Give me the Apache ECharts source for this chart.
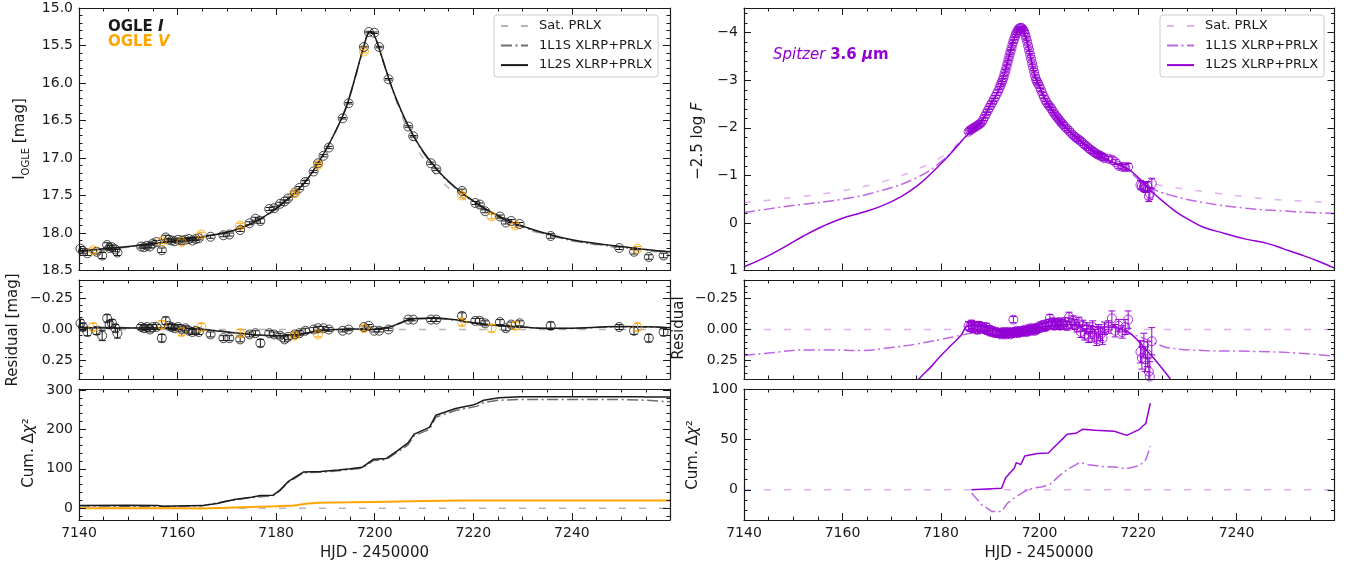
<!DOCTYPE html>
<html><head><meta charset="utf-8">
<script src="https://cdn.jsdelivr.net/npm/echarts@6/dist/echarts.min.js"></script>
<style>html,body{margin:0;padding:0;background:#fff}#c{width:1347px;height:566px}</style>
</head><body><div id="c"></div>
<script>
// ---------------- tick labels ----------------
const xMajorTicks = [7140, 7160, 7180, 7200, 7220, 7240];
const magTicks = [15.0, 15.5, 16.0, 16.5, 17.0, 17.5, 18.0, 18.5];
const resTicks = [-0.25, 0, 0.25];
const cumTicksL = [0, 100, 200, 300];
const fluxTicks = [-4, -3, -2, -1, 0, 1];
const cumTicksR = [0, 50, 100];

// ---------------- OGLE I data ----------------
const oglI_t = [7140.3,7140.8,7141.7,7143.6,7144.7,7145.7,7146.2,7146.7,7147.4,7147.8,
 7152.6,7153.2,7153.8,7154.4,7155.0,7155.7,
 7156.8,7157.6,7158.2,7158.8,7159.4,7160.1,7160.9,7161.6,7162.3,7163.0,7163.7,7164.3,
 7166.7,7169.3,7170.5,7172.7,
 7174.6,7175.8,7176.8,
 7178.6,7179.6,7180.8,7181.7,7182.4,
 7183.8,7184.7,7185.9,
 7187.6,7188.5,7189.6,7190.7,
 7193.5,7194.7,
 7197.8,7198.8,7199.9,7200.9,
 7202.8,
 7206.8,7207.8,
 7211.4,7212.5,
 7217.7,
 7220.4,7221.3,7222.4,
 7225.4,7226.6,7227.7,7229.4,
 7235.7,
 7249.6,7252.6,7255.6,7258.6];
const oglI_mag = [18.21,18.24,18.27,18.25,18.30,18.16,18.20,18.19,18.22,18.26,
 18.18,18.19,18.17,18.18,18.14,18.12,
 18.23,18.06,18.09,18.10,18.11,18.09,18.10,18.09,18.08,18.10,18.08,18.07,
 18.05,18.03,18.02,17.96,
 17.87,17.81,17.84,
 17.68,17.67,17.61,17.58,17.54,
 17.46,17.40,17.32,
 17.18,17.07,16.97,16.86,
 16.47,16.27,
 15.52,15.32,15.33,15.52,
 15.95,
 16.58,16.71,
 17.07,17.15,
 17.44,
 17.60,17.62,17.71,
 17.78,17.86,17.84,17.88,
 18.04,
 18.20,18.25,18.32,18.30];
const oglI_err = [.03,.03,.03,.03,.04,.03,.03,.03,.03,.04,
 .02,.02,.02,.02,.02,.02,
 .03,.03,.02,.02,.02,.02,.02,.02,.02,.02,.02,.02,
 .02,.02,.02,.02,
 .02,.02,.03,
 .02,.02,.02,.02,.02,
 .02,.02,.02,
 .015,.015,.015,.015,
 .01,.01,
 .01,.01,.01,.01,
 .01,
 .01,.01,
 .015,.015,
 .025,
 .02,.02,.02,
 .02,.02,.02,.02,
 .03,
 .02,.03,.03,.03];
const oglI_res = [-0.05,-0.02,0.02,0.01,0.05,-0.09,-0.04,-0.05,-0.01,0.03,
 -0.02,-0.01,-0.02,0.00,-0.02,-0.02,
 0.07,-0.07,-0.03,-0.02,-0.01,-0.02,0.00,-0.01,0.01,0.02,0.01,0.02,
 0.04,0.07,0.07,0.08,
 0.04,0.03,0.11,
 0.03,0.04,0.05,0.08,0.06,
 0.04,0.03,0.01,
 0.00,-0.01,-0.01,0.00,
 0.01,0.00,
 -0.02,-0.03,0.01,0.01,
 0.00,
 -0.08,-0.08,
 -0.08,-0.08,
 -0.11,
 -0.07,-0.07,-0.05,
 -0.06,-0.01,-0.04,-0.05,
 -0.03,
 -0.02,0.01,0.07,0.02];

// ---------------- OGLE V data ----------------
const oglV_t = [7142.9,7156.8,7160.8,7164.8,7172.7,7183.7,7188.5,7197.8,7217.7,7223.7,7228.5,7253.3];
const oglV_mag = [18.23,18.11,18.12,18.02,17.90,17.47,17.09,15.58,17.50,17.78,17.90,18.21];
const oglV_err = [.03,.03,.03,.03,.03,.02,.02,.02,.03,.03,.03,.03];
const oglV_res = [-0.02,-0.04,0.02,-0.02,0.03,0.05,0.04,-0.01,-0.06,-0.01,-0.03,-0.02];

// ---------------- OGLE models ----------------
const modL_t = [7140,7145,7150,7155,7160,7165,7170,7173,7176,7179,7182,7184,7186,7188,7190,7192,7194,7195,7196,7197,7198,7198.5,7199,7199.5,7200,7200.5,7201,7202,7203,7204,7206,7208,7210,7212,7214,7216,7218,7220,7222,7225,7228,7231,7235,7240,7245,7250,7255,7259.9];
const m1l2s_L = [18.24,18.21,18.18,18.14,18.10,18.05,17.99,17.93,17.84,17.72,17.57,17.45,17.31,17.12,16.90,16.65,16.36,16.16,15.93,15.69,15.46,15.36,15.32,15.32,15.38,15.46,15.56,15.77,15.97,16.15,16.46,16.72,16.93,17.10,17.25,17.37,17.48,17.57,17.66,17.77,17.86,17.93,18.01,18.09,18.14,18.18,18.22,18.25];
const m1l1s_L = [18.245,18.215,18.185,18.145,18.105,18.055,17.99,17.93,17.845,17.725,17.575,17.455,17.31,17.12,16.90,16.65,16.36,16.16,15.93,15.69,15.46,15.36,15.32,15.32,15.38,15.46,15.56,15.77,15.975,16.16,16.47,16.73,16.94,17.11,17.26,17.38,17.49,17.58,17.67,17.78,17.87,17.94,18.02,18.10,18.15,18.19,18.225,18.255];
const satL_t = [7140,7150,7160,7165,7170,7175,7180,7185,7190,7195,7198,7199.2,7200,7202,7204,7206,7208,7210,7212,7214,7216,7220,7225,7230,7235,7245,7259.9];
const sat_L = [18.26,18.19,18.11,18.06,17.97,17.84,17.61,17.34,16.90,16.16,15.45,15.31,15.38,15.77,16.17,16.52,16.81,17.02,17.19,17.34,17.45,17.62,17.80,17.93,18.03,18.16,18.27];

const resL_t = [7140,7150,7160,7165,7170,7175,7180,7183,7186,7189,7192,7196,7199,7201,7203,7205,7207,7210,7213,7216,7219,7222,7226,7230,7235,7240,7245,7250,7255,7259.9];
const res1l2s_L = [-0.015,-0.012,-0.01,0.0,0.02,0.04,0.05,0.045,0.03,0.01,0.0,-0.005,0.0,-0.01,-0.02,-0.05,-0.08,-0.09,-0.09,-0.08,-0.06,-0.045,-0.03,-0.02,-0.01,-0.01,-0.018,-0.025,-0.022,-0.015];
const res1l1s_L = [-0.02,-0.015,-0.012,-0.003,0.018,0.04,0.052,0.048,0.033,0.012,0.002,-0.003,0.002,-0.008,-0.018,-0.048,-0.077,-0.087,-0.087,-0.077,-0.058,-0.043,-0.028,-0.018,-0.009,-0.008,-0.016,-0.022,-0.02,-0.012];

const cumL_t = [7140,7150,7156,7157,7165,7168,7171.5,7173.3,7175,7176.8,7179.4,7180.7,7182.5,7184,7185.6,7189,7192.6,7195,7197.5,7199.7,7202.3,7204.5,7206.7,7208,7211.1,7212.4,7216.4,7219.9,7220.8,7222.1,7225.2,7229.6,7254,7255,7259.9];
const cum1l2s_L = [7,7.5,7,5,6.5,12,22,25,28,32,33,45,68,80,92,93,97,100,104,124,126,145,165,188,205,236,253,262,266,274,280,283,283,282,282];
const cum1l1sL_t = [7140,7157,7165,7170,7175,7179.4,7180.7,7182.5,7185.6,7189,7195,7197.5,7199.7,7202.3,7206.7,7208,7211.1,7212.4,7216.4,7220.8,7222.1,7225.2,7230,7250,7255,7259.9];
const cum1l1s_L = [6,4,6,18,27,32,44,66,90,91,98,102,121,123,160,184,200,231,248,259,268,274,276,276,274,270];
const cumV_t = [7140,7160,7165,7170,7175,7180,7183.7,7186,7188.5,7195,7200,7210,7217.7,7259.9];
const cumV_L = [0,0,-0.5,1,3,5,7,11,14,15,16,18,19.5,19.5];
const zero_t = [7140, 7259.9];
const zero_v = [0, 0];

// ---------------- Spitzer data ----------------
const spz_t = [7185.6,7185.9,7186.2,7186.5,7186.8,7187.1,7187.4,7187.7,7188.0,7188.3,
 7188.6,7188.9,7189.2,7189.5,7189.8,7190.1,7190.4,7190.7,7191.0,7191.3,7191.6,
 7191.9,7192.1,7192.3,7192.5,7192.7,7192.9,7193.1,7193.3,7193.5,7193.7,7193.9,7194.1,7194.3,7194.5,7194.7,7194.9,7195.1,7195.3,7195.5,7195.7,7195.9,7196.1,7196.3,7196.5,
 7196.7,7196.9,7197.1,7197.3,7197.5,7197.7,7197.9,7198.1,7198.3,7198.5,7198.7,7198.9,7199.1,7199.3,7199.5,7199.7,
 7200.0,7200.3,7200.6,7200.9,7201.2,7201.5,7201.8,7202.1,7202.4,7202.7,7203.0,7203.3,7203.6,7203.9,7204.2,7204.5,
 7204.8,7205.2,7205.6,7206.0,7206.4,7206.8,7207.2,7207.6,7208.0,7208.4,7208.8,7209.2,7209.6,7210.0,7210.4,7210.8,7211.2,7211.6,7212.0,7212.4,7212.8,7213.2,
 7214.0,7214.7,7215.4,7216.1,7216.8,7217.4,7218.0,
 7220.5,7220.8,7221.2,7221.5,7221.9,7222.2,7222.4,7222.8];
const spz_mag = [-1.92,-1.95,-1.97,-1.99,-2.01,-2.03,-2.05,-2.07,-2.09,-2.12,
 -2.18,-2.24,-2.30,-2.36,-2.42,-2.48,-2.53,-2.59,-2.65,-2.71,-2.77,
 -2.84,-2.90,-2.95,-3.00,-3.06,-3.13,-3.20,-3.28,-3.36,-3.44,-3.52,-3.60,-3.67,-3.75,-3.82,-3.88,-3.94,-3.99,-4.03,-4.07,-4.09,-4.10,-4.10,-4.09,
 -4.06,-4.02,-3.96,-3.89,-3.81,-3.72,-3.63,-3.54,-3.45,-3.36,-3.27,-3.18,-3.09,-3.02,-2.97,-2.93,
 -2.87,-2.80,-2.72,-2.65,-2.58,-2.53,-2.48,-2.45,-2.40,-2.35,-2.30,-2.26,-2.22,-2.18,-2.14,-2.10,
 -2.07,-2.02,-1.98,-1.94,-1.89,-1.85,-1.81,-1.78,-1.75,-1.72,-1.68,-1.64,-1.61,-1.57,-1.54,-1.51,-1.48,-1.45,-1.43,-1.41,-1.39,-1.36,
 -1.35,-1.33,-1.28,-1.20,-1.18,-1.17,-1.18,
 -0.80,-0.78,-0.76,-0.74,-0.77,-0.56,-0.62,-0.83];
const spz_err = [.035,.035,.035,.035,.035,.035,.035,.035,.035,.035,
 .03,.03,.03,.03,.03,.03,.03,.03,.03,.03,.03,
 .025,.025,.025,.025,.025,.025,.025,.025,.025,.025,.025,.025,.025,.025,.025,.025,.025,.025,.025,.025,.025,.025,.025,.025,
 .025,.025,.025,.025,.025,.025,.025,.025,.025,.025,.025,.025,.025,.025,.025,.025,
 .03,.03,.03,.03,.03,.03,.03,.03,.03,.03,.03,.03,.03,.03,.03,.03,
 .035,.035,.035,.04,.04,.04,.04,.04,.04,.045,.045,.045,.045,.045,.05,.05,.05,.05,.05,.05,.05,.05,
 .05,.06,.05,.05,.05,.06,.07,
 .09,.09,.10,.10,.10,.11,.12,.11];
const spz_res = [-0.03,-0.02,-0.04,-0.01,-0.03,-0.02,0.00,-0.03,-0.01,-0.02,
 -0.01,0.00,-0.02,0.01,0.00,0.02,0.01,0.02,0.03,0.02,0.03,
 0.03,0.04,0.03,0.02,0.04,0.03,0.02,0.04,0.03,0.02,0.03,0.04,0.02,0.03,-0.08,0.02,0.03,0.01,0.02,0.03,0.02,0.01,0.02,0.01,
 0.01,0.02,0.00,0.01,0.02,0.00,0.01,-0.01,0.00,0.01,-0.01,0.00,0.01,-0.01,0.00,-0.02,
 -0.01,-0.03,-0.02,-0.04,-0.02,-0.03,-0.05,-0.09,-0.04,-0.06,-0.03,-0.05,-0.04,-0.06,-0.03,-0.05,
 -0.04,-0.06,-0.03,-0.10,-0.05,-0.07,-0.04,-0.02,-0.06,0.02,-0.03,0.04,-0.01,0.06,0.02,-0.02,0.05,0.08,0.01,0.04,0.07,-0.01,
 -0.02,-0.09,0.01,-0.03,0.02,-0.02,-0.08,
 0.18,0.23,0.13,0.24,0.20,0.34,0.38,0.095];

// ---------------- Spitzer models ----------------
const modR_t = [7140,7144,7148,7152,7156,7160,7164,7168,7172,7175.4,7178,7180.6,7183,7185.6,7188,7190,7192,7194,7195,7196,7196.5,7197,7198,7199,7200,7201,7202,7204,7206,7208,7210,7212,7214,7216,7218,7220,7222,7224,7226.4,7228.5,7230.7,7233.3,7237.6,7241.9,7246.2,7249.7,7253.1,7256.5,7259.9];
const m1l2s_R = [0.92,0.74,0.52,0.28,0.07,-0.10,-0.22,-0.36,-0.56,-0.80,-1.04,-1.31,-1.58,-1.88,-2.10,-2.48,-2.86,-3.58,-3.92,-4.09,-4.10,-3.98,-3.58,-3.12,-2.87,-2.63,-2.46,-2.15,-1.94,-1.76,-1.59,-1.43,-1.32,-1.22,-1.13,-0.96,-0.74,-0.55,-0.34,-0.18,-0.05,0.09,0.22,0.34,0.43,0.55,0.67,0.80,0.95];
const modR2_t = [7140,7149.5,7160,7168.5,7175.4,7180.6,7184.5,7188,7190,7192,7194,7195,7196,7196.5,7197,7198,7199,7200,7201,7202,7204,7206,7208,7210,7212,7214,7216,7218,7220,7222.1,7226.4,7233.3,7241.9,7249.7,7259.9];
const m1l1s_R = [-0.22,-0.36,-0.50,-0.70,-0.97,-1.34,-1.76,-2.11,-2.48,-2.86,-3.58,-3.92,-4.09,-4.10,-3.98,-3.58,-3.12,-2.87,-2.63,-2.46,-2.15,-1.94,-1.76,-1.59,-1.43,-1.33,-1.24,-1.12,-0.92,-0.76,-0.59,-0.43,-0.31,-0.25,-0.20];
const sat_R = [-0.43,-0.53,-0.68,-0.88,-1.14,-1.42,-1.78,-2.12,-2.48,-2.86,-3.58,-3.92,-4.09,-4.10,-3.98,-3.58,-3.12,-2.87,-2.63,-2.46,-2.15,-1.94,-1.76,-1.59,-1.44,-1.34,-1.25,-1.10,-0.95,-0.85,-0.76,-0.66,-0.55,-0.48,-0.43];

const resR2s_t = [7174,7176,7178,7180,7182,7184,7185.6,7187,7190,7194,7198,7202,7206,7210,7212,7214,7216,7218,7220,7222,7224,7226,7227.5];
const res1l2s_R = [0.47,0.38,0.30,0.21,0.13,0.05,-0.03,-0.03,-0.01,0.02,0.0,-0.03,-0.04,-0.03,-0.02,-0.02,-0.01,0.02,0.09,0.18,0.27,0.37,0.46];
const resR1s_t = [7140,7145,7152.5,7158,7163.6,7170,7174.6,7180,7183.2,7186,7190,7195,7200,7205,7210,7214,7216,7218,7220,7222.1,7224,7226.4,7233.3,7243.6,7252.2,7259.9];
const res1l1s_R = [0.21,0.19,0.165,0.165,0.17,0.145,0.12,0.08,0.054,0.03,0.01,0.0,-0.005,-0.01,-0.005,0.0,0.01,0.03,0.055,0.087,0.12,0.15,0.17,0.177,0.19,0.215];

const cumR2s_t = [7186.2,7192.3,7193.1,7194.9,7195.3,7196.2,7197,7199.6,7201.8,7203.1,7204.8,7205.6,7207.4,7208.7,7211.3,7215.2,7217.7,7220.3,7221.6,7222.5];
const cum1l2s_R = [0,1.6,11.6,21.5,27,25,33.5,36,36.5,43,51,55,56,60,59,58,54,60,66,86];
const cumR1s_t = [7186.2,7188.3,7190.4,7192.3,7193.5,7195.3,7197,7198.7,7200.4,7202.2,7203.9,7205.6,7207.4,7208.2,7210,7212.5,7215.2,7217.7,7220.3,7221.6,7222.5];
const cum1l1s_R = [-3.3,-15,-21.6,-21.6,-13.2,-6.6,-1.6,1.7,2.7,5.6,13.3,19.9,24.9,27.2,24.9,23.2,22.6,20.9,23.9,29.9,43.2];

// ---------------- styling ----------------
const FONT = 'DejaVu Sans';
const INK = '#1a1a1a';
const VIOLET = '#9400D3';
const VIOLET_LT = 'rgba(148,0,211,0.3)';
const VIOLET_MD = 'rgba(148,0,211,0.6)';
const ORANGE = '#FFA500';
const GRAY_LT = '#b5b5b5';
const GRAY_MD = '#6e6e6e';
const DASH = [7, 13];
const DASHDOT = [11, 3.5, 2, 3.5];
const T_MIN = 7140, T_MAX = 7259.9;

function seq(a, b, step) {
  const n = Math.round((b - a) / step);
  return Array.from({length: n + 1}, (_, i) => +(a + i * step).toFixed(5));
}
const MINUS = s => s.replace('-', '\u2212');
const fmtMag = v => v.toFixed(1);
const fmtRes = v => Math.abs(v) < 1e-9 ? '0.00' : MINUS(v.toFixed(2));
const fmtInt = v => MINUS(String(Math.round(v)));

const cols = [{left: 79, width: 591}, {left: 744, width: 590.5}];
const rows = [{top: 8, height: 262.5}, {top: 280, height: 99}, {top: 389, height: 131}];

const panels = [
  {col: 0, row: 0, y: [15, 18.5], inv: true, maj: magTicks, min: seq(15, 18.5, 0.1), fmt: fmtMag},
  {col: 0, row: 1, y: [-0.4, 0.4], inv: true, maj: resTicks, min: seq(-0.4, 0.4, 0.05), fmt: fmtRes},
  {col: 0, row: 2, y: [-30, 302.5], inv: false, maj: cumTicksL, min: seq(-20, 300, 20), fmt: fmtInt},
  {col: 1, row: 0, y: [-4.52, 1], inv: true, maj: fluxTicks, min: seq(-4.4, 1, 0.2), fmt: fmtInt},
  {col: 1, row: 1, y: [-0.4, 0.4], inv: true, maj: resTicks, min: seq(-0.4, 0.4, 0.05), fmt: fmtRes},
  {col: 1, row: 2, y: [-30, 100], inv: false, maj: cumTicksR, min: seq(-30, 100, 10), fmt: fmtInt},
];
const xMinor = seq(7140, 7255, 5);

const grids = [], xAxes = [], yAxes = [];
function mk(g, pos, lo, hi, inverse, ticks, len, line, labels, fmt) {
  return {
    type: 'value', gridIndex: g, position: pos, min: lo, max: hi, inverse, offset: 0,
    axisLine: {show: line, onZero: false, lineStyle: {color: INK, width: 1.2}},
    axisTick: {show: true, inside: true, length: len, customValues: ticks, lineStyle: {color: INK, width: 1}},
    axisLabel: labels ? {show: true, customValues: labels, formatter: fmt, fontFamily: FONT, fontSize: 14, color: INK, margin: 6} : {show: false},
    splitLine: {show: false}, minorTick: {show: false}, minorSplitLine: {show: false},
    silent: true, z: 5
  };
}
panels.forEach((p, g) => {
  const c = cols[p.col], r = rows[p.row];
  grids.push({left: c.left, top: r.top, width: c.width, height: r.height, containLabel: false, show: false});
  const showX = p.row === 2;
  xAxes.push(mk(g, 'bottom', T_MIN, T_MAX, false, xMajorTicks, 7, true, showX ? xMajorTicks : null, v => String(v)));
  xAxes.push(mk(g, 'bottom', T_MIN, T_MAX, false, xMinor, 3.5, false, null));
  xAxes.push(mk(g, 'top', T_MIN, T_MAX, false, xMajorTicks, 7, true, null));
  xAxes.push(mk(g, 'top', T_MIN, T_MAX, false, xMinor, 3.5, false, null));
  yAxes.push(mk(g, 'left', p.y[0], p.y[1], p.inv, p.maj, 7, true, p.maj, p.fmt));
  yAxes.push(mk(g, 'left', p.y[0], p.y[1], p.inv, p.min, 3.5, false, null));
  yAxes.push(mk(g, 'right', p.y[0], p.y[1], p.inv, p.maj, 7, true, null));
  yAxes.push(mk(g, 'right', p.y[0], p.y[1], p.inv, p.min, 3.5, false, null));
});

const xy = (xs, ys) => xs.map((x, i) => [x, ys[i]]);
function lineS(g, xs, ys, color, width, type, name, smooth, z) {
  return {type: 'line', name, xAxisIndex: 4 * g, yAxisIndex: 4 * g, data: xy(xs, ys),
    symbol: 'none', showSymbol: false, smooth: smooth ? 0.45 : false,
    lineStyle: {color, width, type}, itemStyle: {color}, clip: true, silent: true, animation: false, z: z || 3};
}
function errS(g, xs, ys, es, color) {
  return {type: 'custom', xAxisIndex: 4 * g, yAxisIndex: 4 * g, clip: true, silent: true, animation: false, z: 4,
    data: xs.map((x, i) => [x, ys[i], es[i]]),
    encode: {x: 0, y: 1},
    renderItem: (params, api) => {
      const x = api.value(0), y = api.value(1), e = api.value(2);
      const a = api.coord([x, y - e]), b = api.coord([x, y + e]);
      const cw = 3.5, st = {stroke: color, lineWidth: 1};
      return {type: 'group', children: [
        {type: 'line', shape: {x1: a[0], y1: a[1], x2: b[0], y2: b[1]}, style: st},
        {type: 'line', shape: {x1: a[0] - cw, y1: a[1], x2: a[0] + cw, y2: a[1]}, style: st},
        {type: 'line', shape: {x1: b[0] - cw, y1: b[1], x2: b[0] + cw, y2: b[1]}, style: st}
      ]};
    }};
}
function ptsS(g, xs, ys, color) {
  return {type: 'scatter', xAxisIndex: 4 * g, yAxisIndex: 4 * g, data: xy(xs, ys), symbol: 'circle', symbolSize: 9,
    itemStyle: {color: 'rgba(0,0,0,0)', borderColor: color, borderWidth: 1}, clip: true, silent: true, animation: false, z: 4};
}

const series = [
  // left top
  errS(0, oglI_t, oglI_mag, oglI_err, INK), ptsS(0, oglI_t, oglI_mag, INK),
  errS(0, oglV_t, oglV_mag, oglV_err, ORANGE), ptsS(0, oglV_t, oglV_mag, ORANGE),
  lineS(0, satL_t, sat_L, GRAY_LT, 1.5, DASH, 'Sat. PRLX', true),
  lineS(0, modL_t, m1l1s_L, GRAY_MD, 1.5, DASHDOT, '1L1S XLRP+PRLX', true),
  lineS(0, modL_t, m1l2s_L, INK, 1.5, 'solid', '1L2S XLRP+PRLX', true),
  // left residual
  lineS(1, zero_t, zero_v, GRAY_LT, 1.5, DASH),
  errS(1, oglI_t, oglI_res, oglI_err, INK), ptsS(1, oglI_t, oglI_res, INK),
  errS(1, oglV_t, oglV_res, oglV_err, ORANGE), ptsS(1, oglV_t, oglV_res, ORANGE),
  lineS(1, resL_t, res1l1s_L, GRAY_MD, 1.5, DASHDOT, null, true),
  lineS(1, resL_t, res1l2s_L, INK, 1.5, 'solid', null, true),
  // left cumulative
  lineS(2, zero_t, zero_v, GRAY_LT, 1.5, DASH),
  lineS(2, cum1l1sL_t, cum1l1s_L, GRAY_MD, 1.5, DASHDOT),
  lineS(2, cumL_t, cum1l2s_L, INK, 1.5, 'solid'),
  lineS(2, cumV_t, cumV_L, ORANGE, 2, 'solid'),
  // right top
  errS(3, spz_t, spz_mag, spz_err, VIOLET), ptsS(3, spz_t, spz_mag, VIOLET),
  lineS(3, modR2_t, sat_R, VIOLET_LT, 1.5, DASH, 'Sat. PRLX ', true),
  lineS(3, modR2_t, m1l1s_R, VIOLET_MD, 1.5, DASHDOT, '1L1S XLRP+PRLX ', true),
  lineS(3, modR_t, m1l2s_R, VIOLET, 1.5, 'solid', '1L2S XLRP+PRLX ', true),
  // right residual
  lineS(4, zero_t, zero_v, VIOLET_LT, 1.5, DASH),
  errS(4, spz_t, spz_res, spz_err, VIOLET), ptsS(4, spz_t, spz_res, VIOLET),
  lineS(4, resR1s_t, res1l1s_R, VIOLET_MD, 1.5, DASHDOT, null, true),
  lineS(4, resR2s_t, res1l2s_R, VIOLET, 1.5, 'solid', null, true),
  // right cumulative
  lineS(5, zero_t, zero_v, VIOLET_LT, 1.5, DASH),
  lineS(5, cumR1s_t, cum1l1s_R, VIOLET_MD, 1.5, DASHDOT),
  lineS(5, cumR2s_t, cum1l2s_R, VIOLET, 1.5, 'solid')
];

function legendAt(left, names) {
  return {
    orient: 'vertical', left, top: 15, padding: [4.6, 6, 5.4, 6], itemGap: 6.5, itemWidth: 27, itemHeight: 14,
    backgroundColor: 'rgba(255,255,255,0.85)', borderColor: '#cccccc', borderWidth: 1, borderRadius: 3,
    itemStyle: {opacity: 0, borderWidth: 0},
    textStyle: {fontFamily: FONT, fontSize: 13, color: INK, padding: [0, 0, 0, 6]},
    selectedMode: false, data: names, formatter: n => n.trim(), z: 10
  };
}

const txt = (extra) => Object.assign({fontFamily: FONT, fontSize: 15, fill: INK}, extra || {});
function vlabel(x, y, text, rich) {
  return {type: 'text', x, y, rotation: Math.PI / 2, z: 20, silent: true,
    style: {text, rich, align: 'center', verticalAlign: 'middle', fontFamily: FONT, fontSize: 15, fill: INK}};
}
const cumRich = {n: txt(), i: txt({fontStyle: 'italic'})};
const graphic = [
  vlabel(22, 139, '{n|I}{s|OGLE}{n| [mag]}', {n: txt({lineHeight: 18, verticalAlign: 'top'}), s: txt({fontSize: 10, lineHeight: 8, verticalAlign: 'bottom'})}),
  vlabel(13, 330, '{n|Residual [mag]}', {n: txt()}),
  vlabel(29, 453, '{n|Cum. Δ}{i|χ}{n|²}', cumRich),
  vlabel(698, 141, '{n|\u22122.5 log }{i|F}', cumRich),
  vlabel(679, 328, '{n|Residual}', {n: txt()}),
  vlabel(693, 455, '{n|Cum. Δ}{i|χ}{n|²}', cumRich),
  {type: 'text', x: 374.5, y: 553, silent: true, style: {text: 'HJD - 2450000', align: 'center', verticalAlign: 'middle', fontFamily: FONT, fontSize: 15, fill: INK}},
  {type: 'text', x: 1039, y: 553, silent: true, style: {text: 'HJD - 2450000', align: 'center', verticalAlign: 'middle', fontFamily: FONT, fontSize: 15, fill: INK}},
  {type: 'text', x: 108, y: 27, silent: true, z: 20, style: {text: '{b|OGLE }{bi|I}', verticalAlign: 'middle',
    rich: {b: txt({fontWeight: 'bold'}), bi: txt({fontWeight: 'bold', fontStyle: 'italic'})}}},
  {type: 'text', x: 108, y: 42, silent: true, z: 20, style: {text: '{b|OGLE }{bi|V}', verticalAlign: 'middle',
    rich: {b: txt({fontWeight: 'bold', fill: ORANGE}), bi: txt({fontWeight: 'bold', fontStyle: 'italic', fill: ORANGE})}}},
  {type: 'text', x: 773, y: 55, silent: true, z: 20, style: {text: '{i|Spitzer }{b|3.6 }{bi|μ}{b|m}', verticalAlign: 'middle',
    rich: {i: txt({fontStyle: 'italic', fill: VIOLET}), b: txt({fontWeight: 'bold', fill: VIOLET}), bi: txt({fontWeight: 'bold', fontStyle: 'italic', fill: VIOLET})}}}
];

const chart = echarts.init(document.getElementById('c'), null, {renderer: 'canvas'});
chart.setOption({
  animation: false,
  backgroundColor: '#ffffff',
  grid: grids, xAxis: xAxes, yAxis: yAxes, series,
  legend: [
    legendAt(494, ['Sat. PRLX', '1L1S XLRP+PRLX', '1L2S XLRP+PRLX']),
    legendAt(1160, ['Sat. PRLX ', '1L1S XLRP+PRLX ', '1L2S XLRP+PRLX '])
  ],
  graphic
});
</script></body></html>
